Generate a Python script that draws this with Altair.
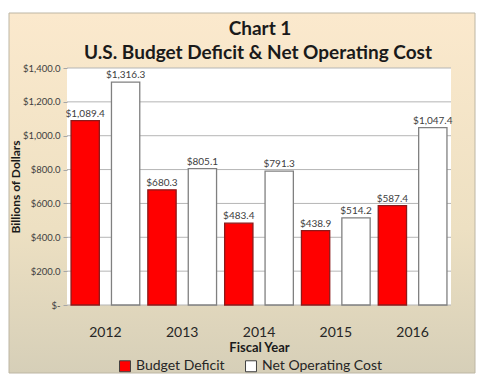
import altair as alt
import pandas as pd

years = ["2012", "2013", "2014", "2015", "2016"]
deficit = [1089.4, 680.3, 483.4, 438.9, 587.4]
net_cost = [1316.3, 805.1, 791.3, 514.2, 1047.4]
series_names = ["Budget Deficit", "Net Operating Cost"]
y_ticks = [0, 200, 400, 600, 800, 1000, 1200, 1400]
title_lines = ["Chart 1", "U.S. Budget Deficit & Net Operating Cost"]

rows = []
for yr, d, n in zip(years, deficit, net_cost):
    rows.append({"year": yr, "series": series_names[0], "value": d, "label": "${:,.1f}".format(d)})
    rows.append({"year": yr, "series": series_names[1], "value": n, "label": "${:,.1f}".format(n)})
df = pd.DataFrame(rows)
grid_df = pd.DataFrame({"value": y_ticks})

W, H = 384, 237
FONT = "Lato"

yscale = alt.Scale(domain=[0, 1400], nice=False)
yaxis = alt.Axis(
    values=y_ticks,
    labelExpr="datum.value == 0 ? '$-' : '$' + format(datum.value, ',.1f')",
    grid=False, domain=False, ticks=True, tickSize=4, tickColor="#a6a6a6",
    labelFont=FONT, labelFontSize=9.5, labelColor="#404040", labelPadding=3,
    title="Billions of Dollars", titleFont=FONT, titleFontSize=12, titleFontWeight="bold",
    titleColor="#1a1a1a", titleX=-45, titleY=H / 2, zindex=1,
)
xaxis = alt.Axis(
    labelAngle=0, domain=False, ticks=False, labelFont=FONT, labelFontSize=14,
    labelColor="#262626", labelPadding=20,
    title="Fiscal Year", titleFont=FONT, titleFontSize=13, titleFontWeight="bold",
    titleColor="#1a1a1a", titlePadding=2, zindex=1,
)

frame = alt.Chart(alt.Data(values=[{"a": 1}])).mark_rect(
    fill=alt.Gradient(
        gradient="linear",
        stops=[alt.GradientStop(color="#fbe9cd", offset=0),
               alt.GradientStop(color="#ede0c2", offset=0.6),
               alt.GradientStop(color="#d6cfb8", offset=1)],
        x1=0, x2=0, y1=0, y2=1,
    ),
    stroke="#bdb6a4", strokeWidth=1,
).encode(x=alt.value(-58), x2=alt.value(408), y=alt.value(-55), y2=alt.value(305))

plot_bg = alt.Chart(alt.Data(values=[{"a": 1}])).mark_rect(fill="white").encode(
    x=alt.value(0), x2=alt.value(W), y=alt.value(0), y2=alt.value(H)
)

title1 = alt.Chart(alt.Data(values=[{"t": title_lines[0]}])).mark_text(
    font=FONT, fontSize=19, fontWeight="bold", color="#1a1a1a", baseline="middle"
).encode(text="t:N", x=alt.value(W / 2 + 1), y=alt.value(-39))
title2 = alt.Chart(alt.Data(values=[{"t": title_lines[1]}])).mark_text(
    font=FONT, fontSize=19, fontWeight="bold", color="#1a1a1a", baseline="middle"
).encode(text="t:N", x=alt.value(W / 2 - 1), y=alt.value(-15))

grid = alt.Chart(grid_df).mark_rule(color="#b5b5b5", strokeWidth=1).encode(
    y=alt.Y("value:Q", scale=yscale, axis=yaxis),
    x=alt.value(0), x2=alt.value(W),
)

base = alt.Chart(df).encode(
    x=alt.X("year:N", sort=years, scale=alt.Scale(paddingInner=0, paddingOuter=0), axis=xaxis),
    xOffset=alt.XOffset("series:N", sort=series_names,
                        scale=alt.Scale(paddingInner=0.3, paddingOuter=0.1)),
    y=alt.Y("value:Q", scale=yscale, axis=yaxis),
)

bars = base.mark_bar(strokeWidth=1.3).encode(
    fill=alt.Fill("series:N", sort=series_names,
                  scale=alt.Scale(domain=series_names, range=["#ff0000", "#ffffff"]),
                  legend=alt.Legend(
                      title=None, orient="none", direction="horizontal",
                      legendX=51, legendY=291, symbolType="square", symbolSize=120,
                      symbolStrokeColor="#404040", symbolStrokeWidth=1,
                      labelFont=FONT, labelFontSize=14, labelColor="#262626",
                      labelOffset=4, columnPadding=18, zindex=1,
                  )),
    stroke=alt.condition(alt.datum.series == "Budget Deficit",
                         alt.value("#8c1a1a"), alt.value("#808080")),
)

labels = base.mark_text(dy=-7, font=FONT, fontSize=10, color="#404040").encode(
    text="label:N"
)

chart = alt.layer(frame, plot_bg, title1, title2, grid, bars, labels).properties(
    width=W, height=H,
    padding={"left": 0, "top": 4, "right": 0, "bottom": 0},
).configure_view(stroke=None).configure(background="white")

chart.save("out.html", embed_options={"renderer": "svg", "actions": False})
